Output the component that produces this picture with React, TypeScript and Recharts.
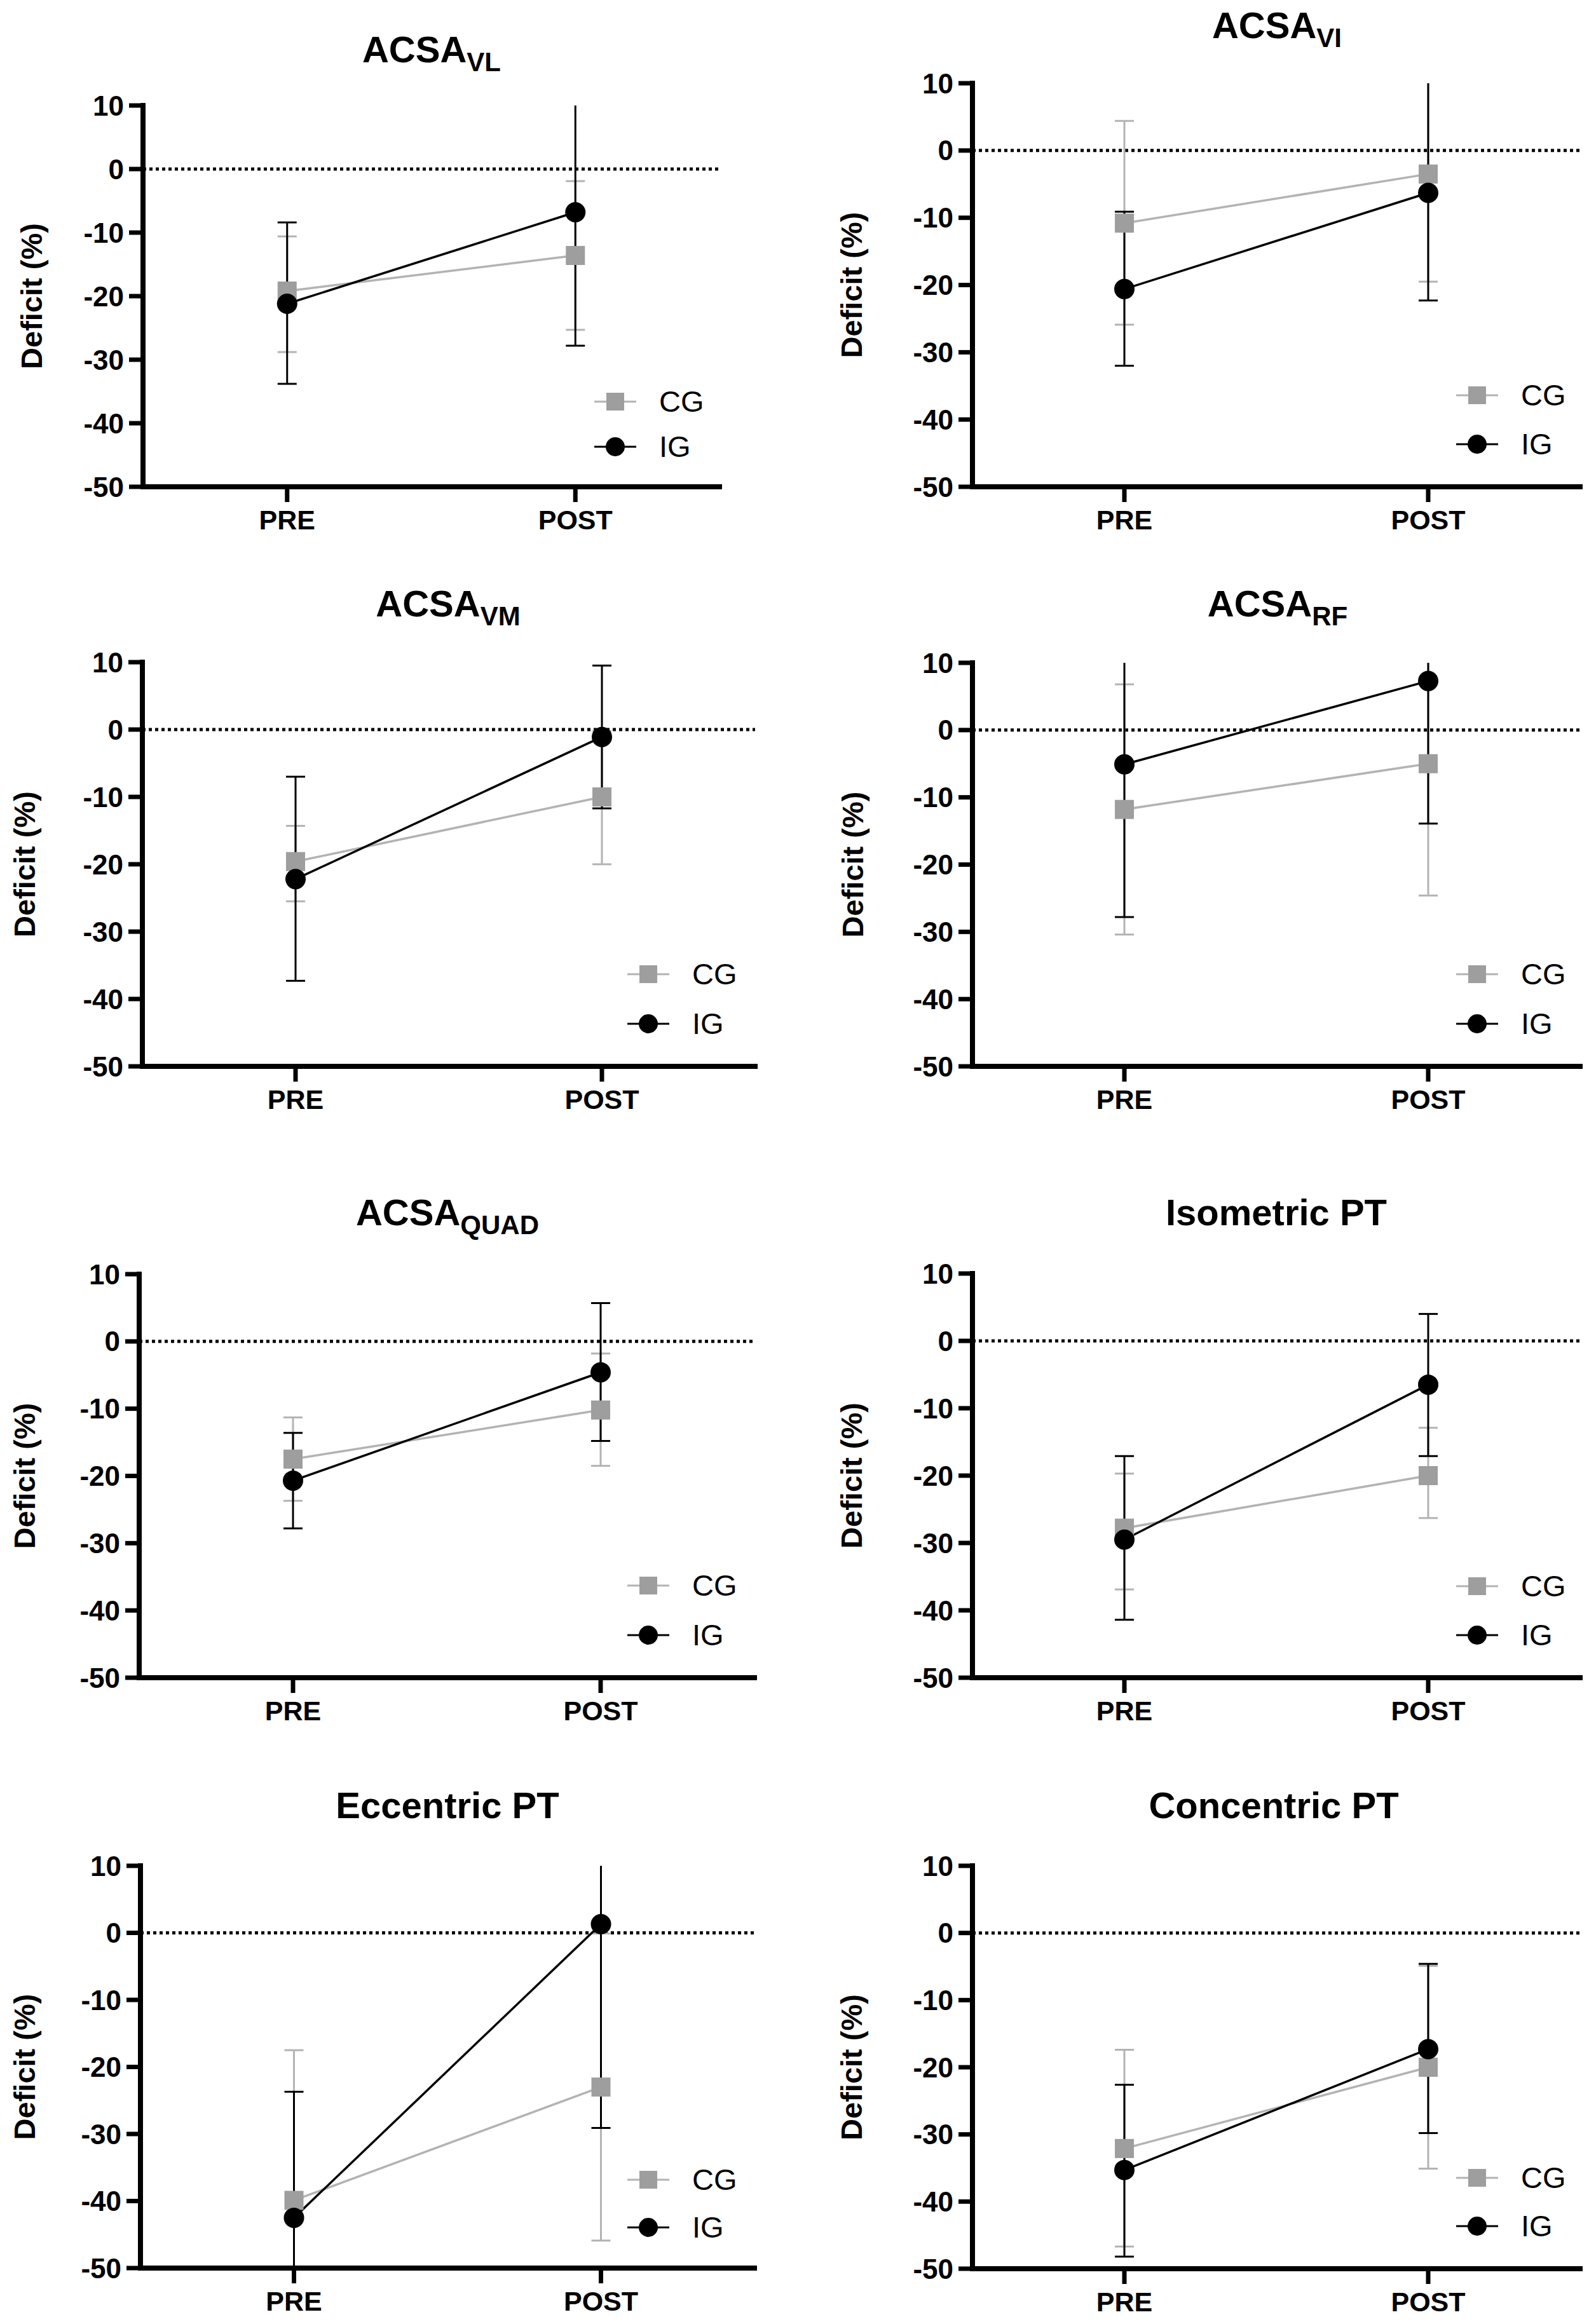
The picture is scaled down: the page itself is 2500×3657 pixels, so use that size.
import { LineChart, Line, XAxis, YAxis, ErrorBar, ReferenceLine, Legend } from 'recharts';

const FONT = '"Liberation Sans", Arial, Helvetica, sans-serif';

const PHASES = ['PRE', 'POST'];
const Y_TICKS = [-50, -40, -30, -20, -10, 0, 10];

const TITLE_MAIN = ['ACSA', 'ACSA', 'ACSA', 'ACSA', 'ACSA', 'Isometric PT', 'Eccentric PT', 'Concentric PT'];
const TITLE_SUB = ['VL', 'VI', 'VM', 'RF', 'QUAD', '', '', ''];

// [PRE, POST] per panel, deficit in %
const CG_MEAN = [
  [-19.2, -13.6], [-10.8, -3.5], [-19.6, -10.0], [-11.8, -5.0],
  [-17.5, -10.2], [-27.8, -20.0], [-39.9, -23.0], [-32.1, -20.0],
];
const CG_UPPER = [
  [-10.6, -1.9], [4.4, 12.5], [-14.3, -0.2], [6.8, 14.6],
  [-11.3, -1.8], [-19.7, -12.9], [-17.5, -0.1], [-17.4, -4.9],
];
const CG_LOWER = [
  [-28.8, -25.3], [-25.9, -19.5], [-25.5, -20.0], [-30.4, -24.6],
  [-23.7, -18.5], [-36.9, -26.3], [-62.3, -45.9], [-46.7, -35.1],
];

const IG_MEAN = [
  [-21.2, -6.8], [-20.6, -6.3], [-22.2, -1.1], [-5.1, 7.3],
  [-20.7, -4.6], [-29.5, -6.5], [-42.5, 1.3], [-35.3, -17.3],
];
const IG_UPPER = [
  [-8.4, 14.2], [-9.1, 11.0], [-7.0, 9.5], [17.6, 28.5],
  [-13.6, 5.7], [-17.1, 4.0], [-23.7, 31.7], [-22.6, -4.6],
];
const IG_LOWER = [
  [-33.8, -27.8], [-32.0, -22.3], [-37.3, -11.7], [-27.8, -13.9],
  [-27.8, -14.8], [-41.4, -17.1], [-61.3, -29.1], [-48.2, -29.8],
];

const CG_LINE = '#b3b3b3';
const CG_MARK = '#9e9e9e';
const IG_COLOR = '#000000';

// page layout in pixels
const PANELS = [
  { col: 0, axisX: 225, endX: 1132, yTop: 166, yBot: 766, labelX: 49, titleX: 679, titleY: 98, legX: 968, cgY: 632, igY: 703 },
  { col: 1250, axisX: 1530, endX: 2486, yTop: 131, yBot: 766, labelX: 1339, titleX: 2009, titleY: 60, legX: 2324, cgY: 622, igY: 699 },
  { col: 0, axisX: 224, endX: 1188, yTop: 1042, yBot: 1678, labelX: 38, titleX: 705, titleY: 970, legX: 1020, cgY: 1533, igY: 1611 },
  { col: 1250, axisX: 1530, endX: 2486, yTop: 1043, yBot: 1678, labelX: 1341, titleX: 2010, titleY: 970, legX: 2324, cgY: 1533, igY: 1611 },
  { col: 0, axisX: 219, endX: 1187, yTop: 2005, yBot: 2640, labelX: 38, titleX: 704, titleY: 1928, legX: 1020, cgY: 2495, igY: 2573 },
  { col: 1250, axisX: 1530, endX: 2486, yTop: 2004, yBot: 2640, labelX: 1339, titleX: 2008, titleY: 1928, legX: 2324, cgY: 2496, igY: 2573 },
  { col: 0, axisX: 221, endX: 1187, yTop: 2936, yBot: 3569, labelX: 38, titleX: 704, titleY: 2861, legX: 1020, cgY: 3430, igY: 3505 },
  { col: 1250, axisX: 1530, endX: 2486, yTop: 2936, yBot: 3570, labelX: 1339, titleX: 2004, titleY: 2861, legX: 2324, cgY: 3427, igY: 3503 },
];

const TOP_PAD = 60;
const Y_AXIS_W = 150;
const X_AXIS_H = 75;
const BOTTOM_PAD = 5;

const buildRows = (i: number) =>
  PHASES.map((phase, k) => ({
    phase,
    cg: CG_MEAN[i][k],
    cgErr: [CG_MEAN[i][k] - CG_LOWER[i][k], CG_UPPER[i][k] - CG_MEAN[i][k]],
    ig: IG_MEAN[i][k],
    igErr: [IG_MEAN[i][k] - IG_LOWER[i][k], IG_UPPER[i][k] - IG_MEAN[i][k]],
  }));

const SquareDot = (props: any) => {
  const { cx, cy, index } = props;
  if (cx == null || cy == null) return null;
  return <rect key={`sq-${index}`} x={cx - 15} y={cy - 15} width={30} height={30} fill={CG_MARK} />;
};

const makeLegend = (gap: number) => ({ payload }: any) => {
  const items = [...(payload || [])].sort((a: any, b: any) => (a.dataKey === 'cg' ? -1 : b.dataKey === 'cg' ? 1 : 0));
  return (
    <div>
      {items.map((entry: any, idx: number) => {
        const isCg = entry.dataKey === 'cg';
        return (
          <div
            key={entry.value}
            style={{ display: 'flex', alignItems: 'center', height: 40, marginTop: idx ? gap - 40 : 0 }}
          >
            <svg width={70} height={40}>
              <line x1={2} y1={20} x2={68} y2={20} stroke={isCg ? CG_LINE : IG_COLOR} strokeWidth={3} />
              {isCg ? (
                <rect x={21} y={6} width={28} height={28} fill={CG_MARK} />
              ) : (
                <circle cx={35} cy={20} r={15} fill={IG_COLOR} />
              )}
            </svg>
            <span style={{ marginLeft: 34, fontSize: 47, fontFamily: FONT, lineHeight: '40px', color: '#000' }}>
              {entry.value}
            </span>
          </div>
        );
      })}
    </div>
  );
};

const Panel = ({ i }: { i: number }) => {
  const p = PANELS[i];
  const plotH = p.yBot - p.yTop;
  const plotW = p.endX - p.axisX;
  const chartTop = p.yTop - TOP_PAD;
  const height = plotH + TOP_PAD + X_AXIS_H + BOTTOM_PAD;
  const lx = p.labelX - p.col;
  const ly = TOP_PAD + plotH / 2;
  const clipId = `err-clip-${i}`;

  return (
    <div style={{ position: 'absolute', left: p.col, top: chartTop }}>
      {/* clip region for error bars that run past the axis range */}
      <svg width={0} height={0} style={{ position: 'absolute' }}>
        <defs>
          <clipPath id={clipId} clipPathUnits="userSpaceOnUse">
            <rect x={p.axisX - p.col - 40} y={TOP_PAD} width={plotW + 80} height={plotH} />
          </clipPath>
        </defs>
      </svg>
      <LineChart
        width={1250}
        height={height}
        data={buildRows(i)}
        margin={{ top: TOP_PAD, bottom: BOTTOM_PAD, left: p.axisX - p.col - Y_AXIS_W, right: p.col + 1250 - p.endX }}
      >
        <XAxis
          dataKey="phase"
          type="category"
          interval={0}
          height={X_AXIS_H}
          padding={{ left: plotW / 4, right: plotW / 4 }}
          axisLine={{ stroke: '#000', strokeWidth: 8, strokeLinecap: 'square' }}
          tickLine={{ stroke: '#000', strokeWidth: 7 }}
          tickSize={24}
          tickMargin={12}
          tick={{ fill: '#000', fontSize: 43, fontWeight: 700, fontFamily: FONT }}
        />
        <YAxis
          type="number"
          domain={[-50, 10]}
          ticks={Y_TICKS}
          allowDataOverflow
          width={Y_AXIS_W}
          axisLine={{ stroke: '#000', strokeWidth: 8, strokeLinecap: 'square' }}
          tickLine={{ stroke: '#000', strokeWidth: 7 }}
          tickSize={22}
          tickMargin={8}
          tick={{ fill: '#000', fontSize: 44, fontWeight: 700, fontFamily: FONT }}
          label={() => (
            <text
              x={lx}
              y={ly}
              transform={`rotate(-90 ${lx} ${ly})`}
              textAnchor="middle"
              dominantBaseline="central"
              fill="#000"
              fontSize={47}
              fontWeight={700}
              fontFamily={FONT}
            >
              Deficit (%)
            </text>
          )}
        />
        <ReferenceLine y={0} stroke="#000" strokeWidth={5} strokeDasharray="5 5" />
        <Legend
          layout="vertical"
          align="center"
          verticalAlign="middle"
          content={makeLegend(p.igY - p.cgY)}
          wrapperStyle={{ left: p.legX - 35 - p.col, top: p.cgY - 20 - chartTop, width: 220 }}
        />
        <Line
          dataKey="cg"
          name="CG"
          type="linear"
          stroke={CG_LINE}
          strokeWidth={3.5}
          dot={SquareDot}
          activeDot={false}
          isAnimationActive={false}
        >
          <ErrorBar
            dataKey="cgErr"
            direction="y"
            width={15}
            stroke={CG_LINE}
            strokeWidth={3}
            clipPath={`url(#${clipId})`}
            isAnimationActive={false}
          />
        </Line>
        <Line
          dataKey="ig"
          name="IG"
          type="linear"
          stroke={IG_COLOR}
          strokeWidth={3.5}
          dot={{ r: 16, fill: IG_COLOR, stroke: IG_COLOR, strokeWidth: 0 }}
          activeDot={false}
          isAnimationActive={false}
        >
          <ErrorBar
            dataKey="igErr"
            direction="y"
            width={15}
            stroke={IG_COLOR}
            strokeWidth={3}
            clipPath={`url(#${clipId})`}
            isAnimationActive={false}
          />
        </Line>
      </LineChart>
    </div>
  );
};

export default function App() {
  return (
    <div style={{ position: 'absolute', left: 0, top: 0, width: 2500, height: 3657, background: '#fff', overflow: 'hidden' }}>
      {PANELS.map((_, i) => (
        <Panel key={i} i={i} />
      ))}
      <svg width={2500} height={3657} style={{ position: 'absolute', left: 0, top: 0, pointerEvents: 'none' }}>
        {PANELS.map((p, i) => (
          <text
            key={i}
            x={p.titleX}
            y={p.titleY}
            textAnchor="middle"
            fill="#000"
            fontSize={58}
            fontWeight={700}
            fontFamily={FONT}
          >
            {TITLE_MAIN[i]}
            {TITLE_SUB[i] ? (
              <tspan fontSize={42} dy={14}>
                {TITLE_SUB[i]}
              </tspan>
            ) : null}
          </text>
        ))}
      </svg>
    </div>
  );
}
